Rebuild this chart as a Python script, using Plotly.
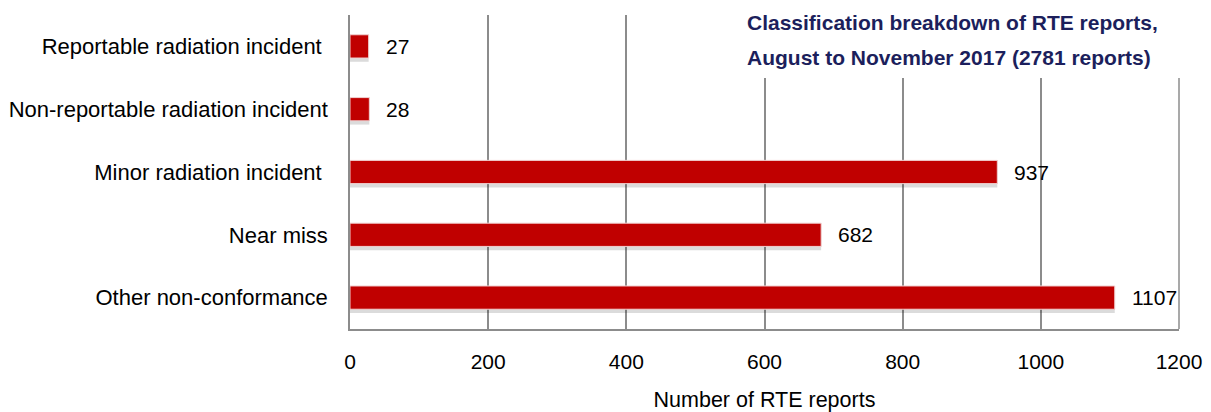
import plotly.graph_objects as go

categories = ["Reportable radiation incident ", "Non-reportable radiation incident",
              "Minor radiation incident ", "Near miss", "Other non-conformance"]
values = [27, 28, 937, 682, 1107]
x_ticks = [0, 200, 400, 600, 800, 1000, 1200]
title_lines = ["Classification breakdown of RTE reports,",
               "August to November 2017 (2781 reports)"]
x_title = "Number of RTE reports"

FONT = "Liberation Sans, Arial, sans-serif"
BAR_W = 0.37
W, H = 1203, 404   # page body has an 8px margin

fig = go.Figure()
# soft drop shadow
fig.add_trace(go.Bar(
    y=categories, x=values, orientation="h", width=BAR_W, offset=-BAR_W / 2 + 0.06,
    marker=dict(color="rgba(0,0,0,0.14)", line=dict(width=0)),
    hoverinfo="skip", showlegend=False,
))
fig.add_trace(go.Bar(
    y=categories, x=values, orientation="h", width=BAR_W, offset=-BAR_W / 2,
    marker=dict(color="#C00000", line=dict(color="#F0D0D0", width=1)),
    showlegend=False,
))

for c, v in zip(categories, values):
    fig.add_annotation(x=v, y=c, text=str(v), showarrow=False, xanchor="left",
                       xshift=15, font=dict(family=FONT, size=21, color="#000000"))

# white panel behind the title, hiding gridlines
fig.add_shape(type="rect", xref="paper", yref="paper", x0=0.42, x1=1.02, y0=0.799, y1=1.05,
              fillcolor="white", line=dict(width=0), layer="above")
for i, line in enumerate(title_lines):
    fig.add_annotation(xref="paper", yref="paper", x=0.4765, y=0.977 - i * 0.112,
                       xanchor="left", yanchor="middle",
                       text="<b>" + line + "</b>", showarrow=False, align="left",
                       font=dict(family=FONT, size=21, color="#1C1F5C"))

fig.update_layout(
    width=W, height=H,
    margin=dict(l=342, r=32, t=7, b=83),
    paper_bgcolor="white", plot_bgcolor="white",
    barmode="overlay",
    font=dict(family=FONT, size=21, color="#000000"),
    xaxis=dict(range=[0, 1200], tickvals=x_ticks, ticktext=[str(t) for t in x_ticks],
               showgrid=True, gridcolor="#8C8C8C", gridwidth=1.5,
               showline=True, linecolor="#8C8C8C", linewidth=1.5, mirror=False,
               zeroline=False, ticks="outside", ticklen=13, tickcolor="rgba(0,0,0,0)",
               automargin=False,
               title=dict(text=x_title, font=dict(family=FONT, size=21.5), standoff=21),
               tickfont=dict(family=FONT, size=21)),
    yaxis=dict(autorange="reversed", showline=True, linecolor="#8C8C8C", linewidth=1.5,
               ticks="outside", ticklen=16, tickcolor="rgba(0,0,0,0)", showgrid=False,
               automargin=False, tickfont=dict(family=FONT, size=22)),
)
# right border of plot area
fig.add_shape(type="line", xref="paper", yref="paper", x0=1, x1=1, y0=0, y1=1,
              line=dict(color="#8C8C8C", width=1.5), layer="below")

fig.write_html("out.html")
